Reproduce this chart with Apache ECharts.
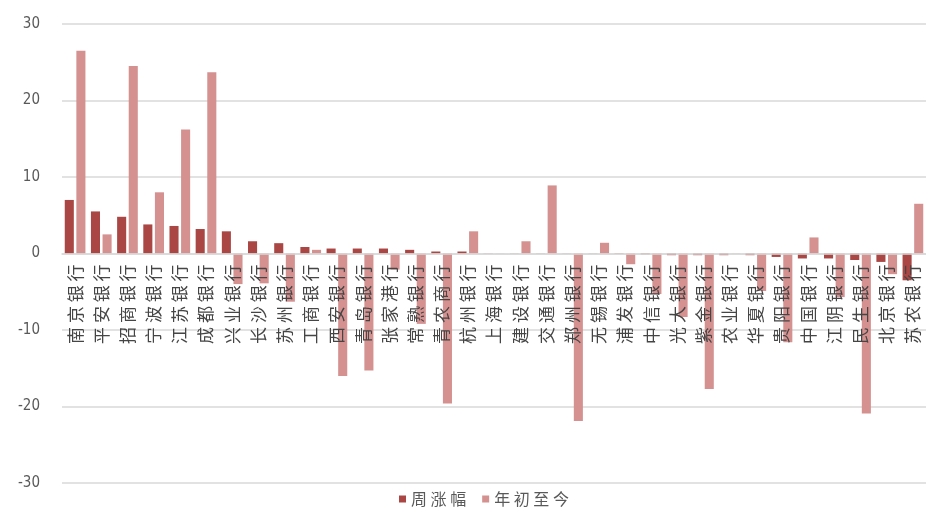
<!DOCTYPE html>
<html lang="zh">
<head>
    <meta charset="UTF-8">
    <title>银行涨跌幅</title>
    <style>
        html, body { margin: 0; padding: 0; background: #fff; }
        #main { width: 926px; height: 508px; }
    </style>
</head>
<body>
<div id="main"></div>
<script src="https://cdn.jsdelivr.net/npm/echarts@6/dist/echarts.min.js"></script>
<script>

    var banks = ['南京银行', '平安银行', '招商银行', '宁波银行', '江苏银行', '成都银行', '兴业银行',
        '长沙银行', '苏州银行', '工商银行', '西安银行', '青岛银行', '张家港行', '常熟银行', '青农商行',
        '杭州银行', '上海银行', '建设银行', '交通银行', '郑州银行', '无锡银行', '浦发银行', '中信银行',
        '光大银行', '紫金银行', '农业银行', '华夏银行', '贵阳银行', '中国银行', '江阴银行', '民生银行',
        '北京银行', '苏农银行'];

    // 周涨幅 (%)
    var weekChg = [7.0, 5.5, 4.8, 3.8, 3.6, 3.2, 2.9,
        1.6, 1.35, 0.85, 0.65, 0.65, 0.65, 0.48, 0.26,
        0.26, 0.03, 0.02, 0.02, -0.02, -0.02, -0.05, -0.1,
        -0.22, -0.22, -0.22, -0.22, -0.45, -0.65, -0.65, -0.85,
        -1.1, -3.5];

    // 年初至今 (%)
    var ytdChg = [26.5, 2.5, 24.5, 8.0, 16.2, 23.7, -4.0,
        -3.9, -6.3, 0.48, -16.0, -15.3, -2.1, -9.2, -19.6,
        2.9, 0.02, 1.6, 8.9, -21.9, 1.4, -1.4, -5.3,
        -8.3, -17.7, 0.02, -4.9, -11.6, 2.1, -5.7, -20.9,
        -2.7, 6.5];

    var yTicks = [-30, -20, -10, 0, 10, 20, 30];

    var gridTop = 24, gridBottom = 25, chartH = 508;
    // the category axis sits on the zero line, half way down the plot
    var zeroOffset = -(chartH - gridTop - gridBottom) / 2;

    var spaced = function (v) {
        return v.split('').join(' ');
    };

    var chart = echarts.init(document.getElementById('main'));

    var option = {
        animation: false,
        color: ['#aa4644', '#d49190'],
        legend: {
            bottom: -4,
            left: 394,
            icon: 'rect',
            itemWidth: 7,
            itemHeight: 7,
            itemGap: 16,
            formatter: spaced,
            textStyle: {
                fontFamily: 'Noto Sans CJK SC',
                fontSize: 16,
                color: '#595959'
            },
            data: ['周涨幅', '年初至今']
        },
        grid: {
            left: 62,
            right: 0,
            top: gridTop,
            bottom: gridBottom,
            containLabel: false,
            outerBoundsMode: 'none'
        },
        xAxis: {
            type: 'category',
            data: banks,
            position: 'bottom',
            offset: zeroOffset,
            z: 5,
            axisLine: { onZero: false, lineStyle: { color: '#d9d9d9', width: 1.5 } },
            axisTick: { show: false },
            axisLabel: {
                rotate: 90,
                interval: 0,
                margin: 11,
                fontFamily: 'Noto Sans CJK SC',
                fontSize: 17,
                color: '#454545',
                formatter: spaced
            }
        },
        yAxis: {
            type: 'value',
            min: yTicks[0],
            max: yTicks[yTicks.length - 1],
            interval: 10,
            axisLine: { show: false },
            axisTick: { show: false },
            splitLine: { lineStyle: { color: '#d9d9d9', width: 1.5 } },
            axisLabel: {
                margin: 22,
                fontFamily: 'DejaVu Sans Condensed, sans-serif',
                fontSize: 15,
                color: '#595959'
            }
        },
        series: [
            {
                name: '周涨幅',
                type: 'bar',
                data: weekChg,
                barCategoryGap: '21%',
                barGap: '28%'
            },
            {
                name: '年初至今',
                type: 'bar',
                data: ytdChg,
                barCategoryGap: '21%',
                barGap: '28%'
            }
        ]
    };

    chart.setOption(option);

</script>
</body>
</html>
